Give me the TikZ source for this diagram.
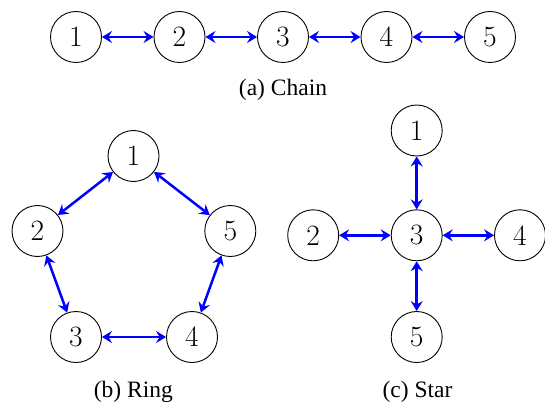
\documentclass[tikz,border=0pt]{standalone}
\usepackage{fontspec}
\setmainfont{Liberation Serif}
\newfontfamily\lmfont{Latin Modern Roman}
\usetikzlibrary{arrows.meta}
\tikzset{
  vert/.style={circle,draw,line width=0.9pt,minimum size=51pt,inner sep=0pt,
    font=\lmfont\fontsize{29.5}{30}\selectfont},
  arr/.style={line width=2.5pt,draw={rgb,255:red,0;green,0;blue,255},
    {Stealth[length=10pt,width=12pt,inset=3.5pt]}-{Stealth[length=10pt,width=12pt,inset=3.5pt]}},
  captext/.style={anchor=base,font=\fontsize{23.5}{26}\selectfont,inner sep=0pt}
}
\begin{document}
\begin{tikzpicture}[x=1pt,y=-1pt]
\useasboundingbox (0,0) rectangle (545,403);
% chain
\node[vert] (a1) at (76,37) {1};
\node[vert] (a2) at (179.5,37) {2};
\node[vert] (a3) at (283,37) {3};
\node[vert] (a4) at (386.5,37) {4};
\node[vert] (a5) at (490,37) {5};
\draw[arr] (a1) -- (a2);
\draw[arr] (a2) -- (a3);
\draw[arr] (a3) -- (a4);
\draw[arr] (a4) -- (a5);
\node[captext] (capa) at (283,96) {(a) Chain};
% ring
\node[vert] (b1) at (133.5,156) {1};
\node[vert] (b2) at (37.5,231) {2};
\node[vert] (b5) at (230.3,231) {5};
\node[vert] (b3) at (76,337) {3};
\node[vert] (b4) at (192,337) {4};
\draw[arr] (b1) -- (b2);
\draw[arr] (b2) -- (b3);
\draw[arr] (b3) -- (b4);
\draw[arr] (b4) -- (b5);
\draw[arr] (b5) -- (b1);
\node[captext] (capb) at (133.3,397) {(b) Ring};
% star
\node[vert] (c1) at (416.7,130.5) {1};
\node[vert] (c2) at (313.2,235.3) {2};
\node[vert] (c3) at (416.7,235.3) {3};
\node[vert] (c4) at (520,235.3) {4};
\node[vert] (c5) at (416.7,337) {5};
\draw[arr] (c3) -- (c1);
\draw[arr] (c3) -- (c2);
\draw[arr] (c3) -- (c4);
\draw[arr] (c3) -- (c5);
\node[captext] (capc) at (417.5,397) {(c) Star};
\end{tikzpicture}
\end{document}
